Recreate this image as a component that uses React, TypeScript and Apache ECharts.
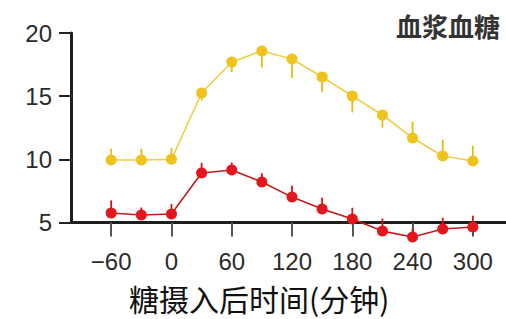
import React, { useEffect, useRef } from "react";
import * as echarts from "echarts";

// minutes after sugar intake
const times = [-60, -30, 0, 30, 60, 90, 120, 150, 180, 210, 240, 270, 300];
// yellow series (upper curve)
const yellowVals = [9.95, 9.95, 10.0, 15.25, 17.7, 18.57, 17.94, 16.52, 15.01, 13.51, 11.69, 10.26, 9.87];
// signed whisker length (+ up, - down)
const yellowErr = [0.9, 0.9, 0.9, -0.6, -0.8, -1.3, -1.5, -1.2, -1.3, -1.0, 1.3, 1.3, 1.2];
// red series (lower curve)
const redVals = [5.75, 5.59, 5.67, 8.92, 9.15, 8.2, 7.01, 6.06, 5.27, 4.32, 3.85, 4.48, 4.64];
const redErr = [1.0, 0.6, 0.8, 0.8, 0.6, 0.7, 0.9, 0.9, 0.9, 1.0, 0.7, 0.9, 0.9];

const xTicks = [-60, 0, 60, 120, 180, 240, 300];
const yTicks = [5, 10, 15, 20];

const chartTitle = "血浆血糖";
const xAxisName = "糖摄入后时间(分钟)";

const YELLOW = "#f0c21c";
const YELLOW_LINE = "#f2cd45";
const RED = "#e3161d";
const RED_LINE = "#c01c1c";

function whiskerSeries(vals: number[], errs: number[], color: string) {
  return {
    type: "custom",
    clip: false,
    z: 2,
    silent: true,
    data: times.map((t, i) => [t, vals[i], errs[i]]),
    encode: { x: 0, y: 1 },
    renderItem: (_params: any, api: any) => {
      const x = api.value(0);
      const y = api.value(1);
      const e = api.value(2);
      const p0 = api.coord([x, y]);
      const p1 = api.coord([x, y + e]);
      return {
        type: "line",
        shape: { x1: p0[0], y1: p0[1], x2: p1[0], y2: p1[1] },
        style: { stroke: color, lineWidth: 1.8 },
      };
    },
  };
}

export default function App() {
  const ref = useRef<HTMLDivElement>(null);
  useEffect(() => {
    if (!ref.current) return;
    const chart = echarts.init(ref.current, null, { renderer: "svg" });
    const labelFont = {
      fontFamily: '"Liberation Sans", Arial, sans-serif',
      fontSize: 24,
      color: "#2b2b2b",
    };
    chart.setOption({
      animation: false,
      backgroundColor: "#ffffff",
      grid: { left: 71, right: 0, top: 33, bottom: 96.5, containLabel: false },
      xAxis: {
        type: "value",
        min: -100,
        max: 333,
        axisLine: { show: true, onZero: false, lineStyle: { color: "#1e1e1e", width: 3 } },
        axisTick: {
          show: true,
          customValues: xTicks,
          length: 14,
          lineStyle: { color: "#555", width: 2 },
        },
        axisLabel: {
          ...labelFont,
          customValues: xTicks,
          margin: 27,
          formatter: (v: number) => (v < 0 ? "\u2212" + Math.abs(v) : String(v)),
        },
        splitLine: { show: false },
      },
      yAxis: {
        type: "value",
        min: 5,
        max: 20,
        interval: 5,
        axisLine: { show: true, onZero: false, lineStyle: { color: "#1e1e1e", width: 3 } },
        axisTick: { show: true, length: 12, lineStyle: { color: "#222", width: 2 } },
        axisLabel: { ...labelFont, margin: 19, customValues: yTicks },
        splitLine: { show: false },
      },
      graphic: [
        {
          type: "text",
          x: 500,
          y: 25,
          style: {
            text: chartTitle,
            textAlign: "right",
            textVerticalAlign: "middle",
            fontFamily: '"Noto Sans CJK SC", sans-serif',
            fontSize: 26,
            fontWeight: "bold",
            fill: "#333",
          },
        },
        {
          type: "text",
          x: 129,
          y: 298,
          style: {
            text: xAxisName,
            textAlign: "left",
            textVerticalAlign: "middle",
            fontFamily: '"Noto Sans CJK SC", sans-serif',
            fontSize: 30,
            fill: "#111",
          },
        },
      ],
      series: [
        whiskerSeries(yellowVals, yellowErr, "#e9b90e"),
        whiskerSeries(redVals, redErr, "#d41414"),
        {
          type: "line",
          clip: false,
          z: 3,
          data: times.map((t, i) => [t, yellowVals[i]]),
          symbol: "circle",
          symbolSize: 11,
          itemStyle: { color: YELLOW },
          lineStyle: { color: YELLOW_LINE, width: 1.6 },
        },
        {
          type: "line",
          clip: false,
          z: 3,
          data: times.map((t, i) => [t, redVals[i]]),
          symbol: "circle",
          symbolSize: 11,
          itemStyle: { color: RED },
          lineStyle: { color: RED_LINE, width: 1.6 },
        },
      ],
    });
    return () => chart.dispose();
  }, []);
  return (
    <div
      ref={ref}
      style={{ position: "fixed", left: 0, top: 0, width: 506, height: 319, background: "#fff" }}
    />
  );
}
